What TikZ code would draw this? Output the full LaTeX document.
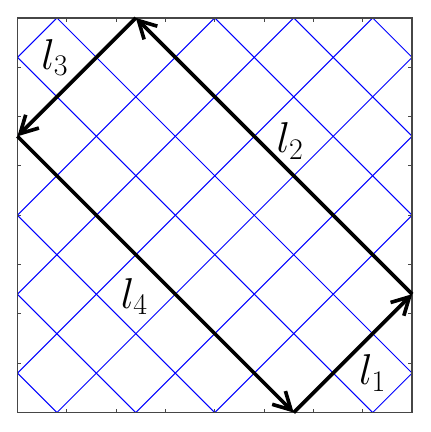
\documentclass[tikz,border=0pt]{standalone}
\usepackage{amsmath}
\usepackage{tikz}
\usetikzlibrary{arrows.meta,calc}
\definecolor{GridBlue}{RGB}{0,0,255}
\definecolor{FrameGray}{RGB}{70,70,70}

\begin{document}
\begin{tikzpicture}[>={Straight Barb[length=3.5mm,width=3.8mm]},
    side/.style={->,line width=2.1pt,line join=miter},
    lab/.style={font=\fontsize{24}{29}\selectfont}]
  \useasboundingbox (-0.353,-0.393) rectangle (8.363,8.363);
  \coordinate (A) at (5.6,0);
  \coordinate (B) at (8,2.4);
  \coordinate (C) at (2.4,8);
  \coordinate (D) at (0,5.6);
  % diagonal grid
  \begin{scope}
    \clip (0,0) rectangle (8,8);
    \foreach \k in {0,...,9}
      \draw[GridBlue,line width=0.6pt] ({0.8+1.6*\k},0) -- ++(-10,10);
    \foreach \k in {-5,...,4}
      \draw[GridBlue,line width=0.6pt] ({0.8+1.6*\k},0) -- ++(10,10);
  \end{scope}
  % frame and ticks
  \draw[FrameGray,line width=0.8pt] (0,0) rectangle (8,8);
  \foreach \t in {1,...,7} {
    \draw[FrameGray,line width=0.6pt] (\t,0) -- ++(0,0.08);
    \draw[FrameGray,line width=0.6pt] (\t,8) -- ++(0,-0.08);
    \draw[FrameGray,line width=0.6pt] (0,\t) -- ++(0.08,0);
    \draw[FrameGray,line width=0.6pt] (8,\t) -- ++(-0.08,0);
  }
  \draw[side] (A) -- (B);
  \draw[side] (B) -- (C);
  \draw[side] (C) -- (D);
  \draw[side] (D) -- (A);
  \node[lab] (l1) at ($(A)!0.5!(B)+(0.4,-0.4)$) {$l_1$};
  \node[lab] (l2) at ($(B)!0.5!(C)+(0.33,0.3)$) {$l_2$};
  \node[lab] (l3) at ($(C)!0.5!(D)+(-0.44,0.4)$) {$l_3$};
  \node[lab] (l4) at ($(D)!0.5!(A)+(-0.43,-0.45)$) {$l_4$};
\end{tikzpicture}
\end{document}
